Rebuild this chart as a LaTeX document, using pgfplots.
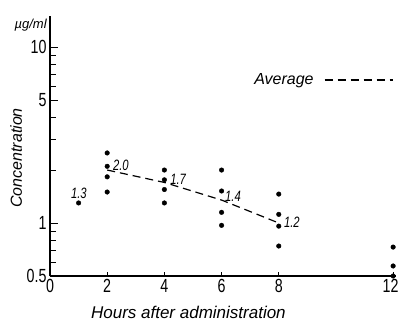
\documentclass[border=0pt]{standalone}
\usepackage{pgfplots}
\pgfplotsset{compat=1.18}
\usepackage{fontspec}
\setmainfont{Liberation Sans}
\newfontfamily\cond{Liberation Sans}[FakeStretch=0.75]
\begin{document}
\begin{tikzpicture}
\begin{axis}[
  scale only axis,
  width=346pt, height=260pt,
  ymode=log,
  xmin=0, xmax=12.1,
  ymin=0.5, ymax=15,
  axis lines=left,
  axis line style={-, line width=1.1pt},
  clip=false,
  xtick={0,2,4,6,8,12},
  xticklabels={0,2,4,6,8,\hspace*{-5pt}12},
  ytick={0.5,1,5,10},
  yticklabels={0.5,1,5,10},
  minor ytick={0.6,0.7,0.8,0.9,2,3,4,6,7,8,9},
  tick align=inside,
  major tick length=8pt,
  minor tick length=6pt,
  xtick style={/pgfplots/major tick length=4pt},
  every tick/.style={black, line width=0.8pt},
  tick label style={font=\cond\fontsize{19}{19}\selectfont},
  /pgf/number format/assume math mode=true,
  xticklabel style={yshift=0pt},
  xlabel={\itshape Hours after administration},
  xlabel style={font=\fontsize{17}{17}\selectfont, at={(axis description cs:0.40,-0.142)}, anchor=center},
  ylabel={\itshape Concentration},
  ylabel style={font=\fontsize{16}{16}\selectfont, at={(axis description cs:-0.098,0.454)}, anchor=center, rotate=0},
  legend plot pos=right,
  legend style={at={(0.584,0.754)}, anchor=west, draw=none, fill=none, inner sep=0pt,
    font=\itshape\fontsize{16}{16}\selectfont},
  legend image code/.code={\path[draw=none] (0pt,0pt) -- (1pt,0pt); \draw[black, line width=1.2pt, dash pattern=on 8pt off 5pt] (9pt,0pt) -- (77pt,0pt);},
]
\addplot[only marks, mark=*, mark size=2.3pt, black, forget plot] coordinates {
  (1,1.30)
  (2,2.5) (2,2.1) (2,1.83) (2,1.5)
  (4,2.0) (4,1.76) (4,1.55) (4,1.3)
  (6,2.0) (6,1.52) (6,1.15) (6,0.97)
  (8,1.46) (8,1.12) (8,0.96) (8,0.74)
  (12,0.73) (12,0.57) (12,0.5)
};
\addplot[black, line width=1.2pt, dash pattern=on 8pt off 5pt] coordinates {
  (2,2.0) (4,1.7) (6,1.35) (8,1.0)
};
\addlegendentry{Average}
\node[font=\cond\itshape\fontsize{15}{15}\selectfont] at (axis cs:1.01,1.48) {1.3};
\node[font=\cond\itshape\fontsize{15}{15}\selectfont] at (axis cs:2.48,2.14) {2.0};
\node[font=\cond\itshape\fontsize{15}{15}\selectfont] at (axis cs:4.48,1.78) {1.7};
\node[font=\cond\itshape\fontsize{15}{15}\selectfont] at (axis cs:6.4,1.41) {1.4};
\node[font=\cond\itshape\fontsize{15}{15}\selectfont] at (axis cs:8.46,1.01) {1.2};
\node[font=\itshape\fontsize{13}{13}\selectfont] at (axis description cs:-0.056,0.965) {\textmu g/ml};
\end{axis}
\pgfresetboundingbox
\path (current axis.south west) ++(-50pt,-47pt) coordinate (bl);
\path (current axis.north east) ++(2pt,16pt) coordinate (tr);
\useasboundingbox (bl) rectangle (tr);
\end{tikzpicture}
\end{document}
